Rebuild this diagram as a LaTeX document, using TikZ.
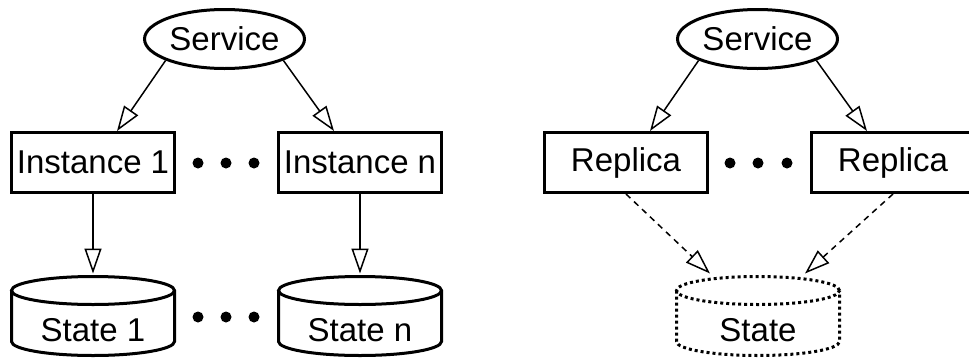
\documentclass[tikz,border=0pt]{standalone}
\usepackage{fontspec}
\setmainfont{Liberation Sans}
\usetikzlibrary{arrows.meta,shapes.geometric}

% outline of a storage drum round an (undrawn) store node
\newcommand{\drum}[2][]{%
  \draw[line width=1.5pt,#1] ([yshift=-7pt]#2.north) ellipse[x radius=40.75pt,y radius=7pt]
    ([yshift=-7pt]#2.north west) -- ([yshift=7pt]#2.south west)
    arc[start angle=180,end angle=360,x radius=40.75pt,y radius=7pt]
    -- ([yshift=-7pt]#2.north east);
}

\begin{document}
\begin{tikzpicture}[
  x=0.5pt,y=-0.5pt,
  font=\fontsize{16.5}{19}\selectfont,
  svc/.style={ellipse,draw,line width=1.5pt,minimum width=80pt,minimum height=29.5pt,inner sep=0pt},
  box/.style={rectangle,draw,line width=1.5pt,minimum width=81.5pt,minimum height=30pt,inner sep=0pt},
  store/.style={rectangle,minimum width=81.5pt,minimum height=39.5pt,inner sep=0pt,outer sep=0pt,text height=25.8pt,text depth=0pt},
  arr/.style={-{Triangle[open,length=12.5pt,width=8.5pt]},line width=0.75pt},
  lazy/.style={arr,dash pattern=on 3pt off 2.5pt}
]
\useasboundingbox (0,0) rectangle (969,359);

% one state per instance
\node[svc] (svcA) at (224.5,39) {Service};
\node[box] (inst1) at (93,162.5) {Instance 1};
\node[box] (instn) at (360,162.5) {Instance n};
\node[store] (st1) at (93,316) {State 1};
\node[store] (stn) at (360,316) {State n};
\drum{st1}
\drum{stn}
\foreach \x in {198,226,254} {
  \fill (\x,163) circle[radius=2.75pt];
  \fill (\x,317) circle[radius=2.75pt];
}
\draw[arr] (svcA.200) -- ([xshift=12pt]inst1.north);
\draw[arr] (svcA.340) -- ([xshift=-13pt]instn.north);
\draw[arr] (inst1.south) -- ([yshift=1.5pt]st1.north);
\draw[arr] (instn.south) -- ([yshift=1.5pt]stn.north);

% replicas sharing one state
\node[svc] (svcB) at (757.5,39) {Service};
\node[box] (rep1) at (626,162.5) {Replica};
\node[box] (repn) at (893,162.5) {Replica};
\node[store] (st) at (758,316) {State};
\drum[dash pattern=on 1.5pt off 1.5pt]{st}
\foreach \x in {730,758,787}
  \fill (\x,163) circle[radius=2.75pt];
\draw[arr] (svcB.200) -- ([xshift=12pt]rep1.north);
\draw[arr] (svcB.340) -- ([xshift=-13pt]repn.north);
\draw[lazy] (rep1.south) -- ([xshift=-24pt,yshift=1.5pt]st.north);
\draw[lazy] (repn.south) -- ([xshift=23.5pt,yshift=1.5pt]st.north);
\end{tikzpicture}
\end{document}
